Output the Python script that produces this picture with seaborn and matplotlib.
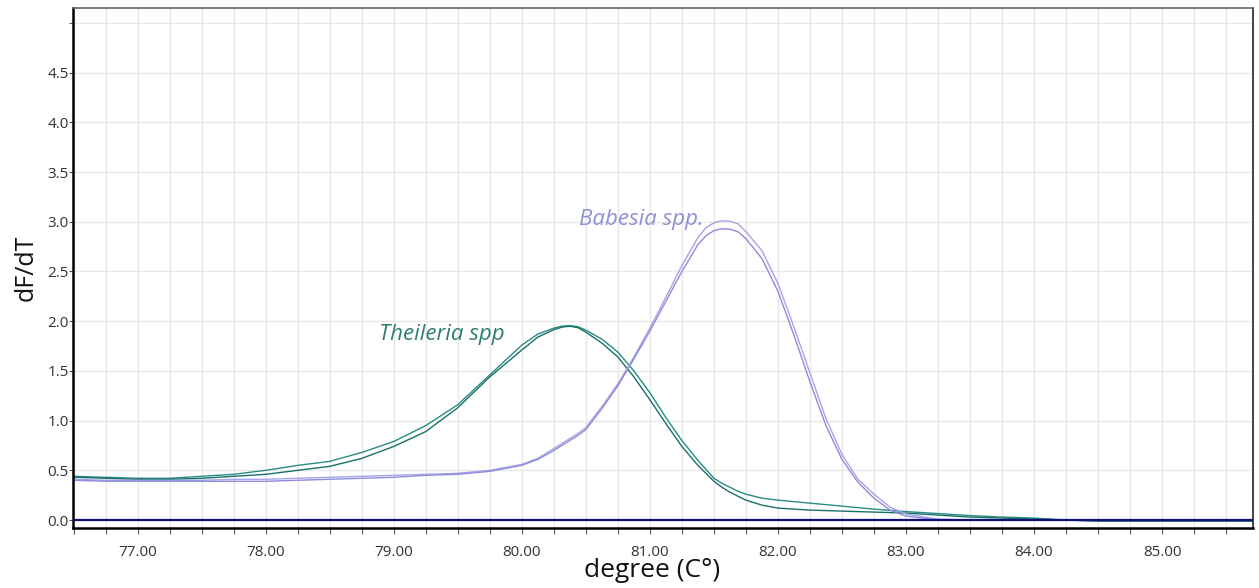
import matplotlib
matplotlib.use("Agg")
import matplotlib.pyplot as plt
import numpy as np
import pandas as pd
import seaborn as sns

# Melt-curve derivative readings (dF/dT) against temperature in °C
temps = [76.50, 76.75, 77.00, 77.25, 77.50, 77.75, 78.00, 78.25, 78.50, 78.75,
         79.00, 79.25, 79.50, 79.75, 80.00, 80.125, 80.25, 80.3125, 80.375, 80.4375,
         80.50, 80.625, 80.75, 80.875, 81.00, 81.125, 81.25, 81.375, 81.4375, 81.50,
         81.5625, 81.625, 81.6875, 81.75, 81.875, 82.00, 82.125, 82.25, 82.375, 82.50,
         82.625, 82.75, 82.875, 83.00, 83.25, 83.50, 83.75, 84.00, 84.25, 84.50,
         85.00, 85.71]

theileria_1 = [0.44, 0.43, 0.42, 0.42, 0.44, 0.46, 0.50, 0.55, 0.59, 0.68,
               0.79, 0.95, 1.16, 1.46, 1.76, 1.87, 1.93, 1.95, 1.955, 1.945,
               1.91, 1.82, 1.69, 1.50, 1.28, 1.03, 0.80, 0.60, 0.51, 0.42,
               0.37, 0.33, 0.29, 0.26, 0.22, 0.20, 0.185, 0.17, 0.155, 0.14,
               0.125, 0.11, 0.097, 0.085, 0.065, 0.045, 0.03, 0.02, 0.00, -0.01,
               -0.01, -0.01]

theileria_2 = [0.43, 0.42, 0.41, 0.41, 0.42, 0.44, 0.46, 0.50, 0.54, 0.62,
               0.74, 0.89, 1.13, 1.44, 1.71, 1.84, 1.915, 1.94, 1.95, 1.935,
               1.89, 1.78, 1.64, 1.44, 1.21, 0.97, 0.74, 0.55, 0.47, 0.39,
               0.33, 0.28, 0.24, 0.20, 0.15, 0.12, 0.11, 0.10, 0.095, 0.09,
               0.085, 0.08, 0.075, 0.07, 0.05, 0.03, 0.02, 0.01, 0.00, -0.01,
               -0.01, -0.01]

babesia_1 = [0.41, 0.40, 0.40, 0.40, 0.40, 0.41, 0.41, 0.42, 0.43, 0.44,
             0.45, 0.46, 0.47, 0.50, 0.56, 0.62, 0.72, 0.77, 0.82, 0.87,
             0.93, 1.14, 1.37, 1.64, 1.93, 2.24, 2.56, 2.84, 2.94, 2.99,
             3.01, 3.005, 2.98, 2.90, 2.71, 2.38, 1.94, 1.48, 1.02, 0.66,
             0.41, 0.26, 0.13, 0.06, 0.01, 0.00, 0.00, 0.00, 0.00, 0.00,
             0.00, 0.00]

babesia_2 = [0.40, 0.39, 0.39, 0.39, 0.39, 0.39, 0.39, 0.40, 0.41, 0.42,
             0.43, 0.45, 0.46, 0.49, 0.55, 0.61, 0.70, 0.75, 0.80, 0.85,
             0.91, 1.12, 1.35, 1.62, 1.90, 2.20, 2.50, 2.77, 2.86, 2.91,
             2.93, 2.925, 2.90, 2.83, 2.63, 2.30, 1.86, 1.39, 0.95, 0.61,
             0.38, 0.22, 0.10, 0.04, 0.00, 0.00, 0.00, 0.00, 0.00, 0.00,
             0.00, 0.00]

x_major = [77, 78, 79, 80, 81, 82, 83, 84, 85]
x_tick_labels = ["77.00", "78.00", "79.00", "80.00", "81.00", "82.00", "83.00", "84.00", "85.00"]
y_ticks = [0.0, 0.5, 1.0, 1.5, 2.0, 2.5, 3.0, 3.5, 4.0, 4.5, 5.0]
y_tick_labels = ["0.0", "0.5", "1.0", "1.5", "2.0", "2.5", "3.0", "3.5", "4.0", "4.5", ""]

traces = {
    "Theileria 1": theileria_1,
    "Theileria 2": theileria_2,
    "Babesia 1": babesia_1,
    "Babesia 2": babesia_2,
}
palette = {
    "Theileria 1": "#2a8a84",
    "Theileria 2": "#187168",
    "Babesia 1": "#a6a4e6",
    "Babesia 2": "#8e8cda",
}

df = pd.concat(
    [pd.DataFrame({"temp": temps, "dfdt": vals, "trace": name}) for name, vals in traces.items()],
    ignore_index=True,
)

sns.set_theme(style="white")
plt.rcParams["font.family"] = ["Open Sans", "DejaVu Sans"]

fig = plt.figure(figsize=(12.59, 5.88), dpi=100)
ax = fig.add_axes([73 / 1259, 1 - 528 / 588, (1253 - 73) / 1259, (528 - 8) / 588])

sns.lineplot(data=df, x="temp", y="dfdt", hue="trace", palette=palette,
             estimator=None, sort=False, legend=False, linewidth=1.0, ax=ax)

# zero reference line
ax.axhline(0.0, color="#10107a", linewidth=1.6, zorder=3)

ax.set_xlim(76.495, 85.71)
ax.set_ylim(-0.08, 5.15)

ax.set_xticks(x_major)
ax.set_xticklabels(x_tick_labels)
ax.set_xticks(np.arange(76.5, 85.75, 0.25), minor=True)
ax.set_yticks(y_ticks)
ax.set_yticklabels(y_tick_labels)

ax.grid(which="both", axis="x", color="#e8e8e8", linewidth=1.0)
ax.grid(which="major", axis="y", color="#e8e8e8", linewidth=1.0)
ax.set_axisbelow(True)

ax.tick_params(axis="x", which="both", direction="out", length=4, width=0.8,
               color="#555555", labelsize=11, labelcolor="#333333", pad=8, bottom=True)
ax.tick_params(axis="y", which="major", direction="out", length=3, width=0.8,
               color="#555555", labelsize=11, labelcolor="#333333", pad=0, left=True)

for side in ["left", "bottom"]:
    ax.spines[side].set_color("#000000")
    ax.spines[side].set_linewidth(1.8)
ax.spines["right"].set_color("#222222")
ax.spines["right"].set_linewidth(1.2)
ax.spines["top"].set_color("#666666")
ax.spines["top"].set_linewidth(1.2)

ax.set_xlabel("degree (C°)", fontsize=19, color="#111111", labelpad=1)
ax.xaxis.set_label_coords(0.4907, -0.058, transform=ax.transAxes)
ax.xaxis.label.set_va("top")
ax.set_ylabel("dF/dT", fontsize=18, color="#111111", labelpad=6)

ax.text(78.885, 1.81, "Theileria spp", color="#2f7f70", fontsize=16, fontstyle="italic",
        va="baseline", ha="left")
ax.text(80.447, 2.97, "Babesia spp.", color="#908fd8", fontsize=16, fontstyle="italic",
        va="baseline", ha="left")

fig.savefig("out.png", dpi=100, facecolor="white")
